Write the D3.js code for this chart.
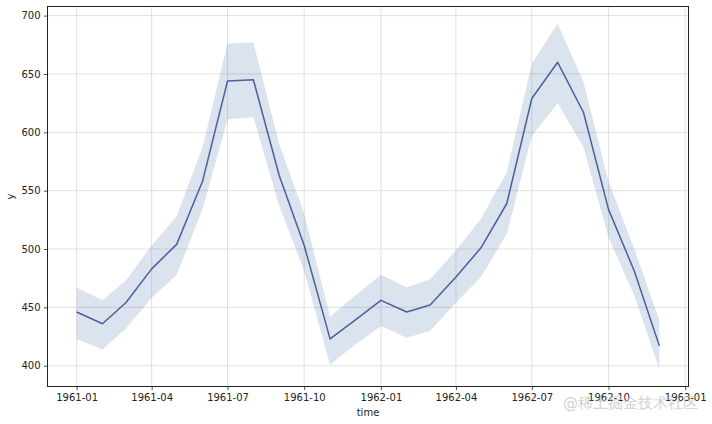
<!DOCTYPE html>
<html>
<head>
<meta charset="utf-8">
<script src="https://cdn.jsdelivr.net/npm/d3@7"></script>
<style>
  html, body { margin: 0; padding: 0; background: #fff; }
  svg { display: block; }
  text { font-family: "DejaVu Sans", sans-serif; }
</style>
</head>
<body>
<svg id="chart" width="712" height="424"></svg>
<script>
// ---- data (monthly, 1961-01 .. 1962-12) ----
const months = [
  "1961-01","1961-02","1961-03","1961-04","1961-05","1961-06",
  "1961-07","1961-08","1961-09","1961-10","1961-11","1961-12",
  "1962-01","1962-02","1962-03","1962-04","1962-05","1962-06",
  "1962-07","1962-08","1962-09","1962-10","1962-11","1962-12"
];
const meanValues = [446, 436, 454, 483, 504, 558, 644, 645, 563, 503, 423, 439,
                    456, 446, 452, 476, 501, 539, 629, 660, 617, 534, 481, 417];
const upperValues = [467, 456, 473, 503, 528, 587, 676, 677, 590, 530, 442, 460,
                     478, 467, 474, 499, 526, 566, 659, 693, 643, 558, 500, 439];
const lowerValues = [423, 414, 432, 458, 478, 534, 611, 613, 537, 481, 401, 418,
                     434, 424, 430, 454, 476, 513, 597, 625, 587, 510, 460, 397];
const xTickLabels = ["1961-01","1961-04","1961-07","1961-10","1962-01","1962-04","1962-07","1962-10","1963-01"];
const yTickValues = [400, 450, 500, 550, 600, 650, 700];

const parse = s => { const [y, m] = s.split("-").map(Number); return new Date(Date.UTC(y, m - 1, 1)); };
const rows = months.map((m, i) => ({ t: parse(m), y: meanValues[i], lo: lowerValues[i], hi: upperValues[i] }));

const svg = d3.select("#chart");
const L = 47.5, R = 688.5, T = 6.5, B = 386.5;
const DAY = 86400000;
const t0 = parse(months[0]), t1 = parse(months[months.length - 1]);
const pad = (t1 - t0) * 0.05;
const x = d3.scaleUtc().domain([new Date(+t0 - pad), new Date(+t1 + pad)]).range([L, R]);
const yLo = d3.min(lowerValues), yHi = d3.max(upperValues);
const ypad = (yHi - yLo) * 0.05;
const y = d3.scaleLinear().domain([yLo - ypad, yHi + ypad]).range([B, T]);

const xTicks = xTickLabels.map(parse);

// grid
const g = svg.append("g");
g.selectAll("line.gx").data(xTicks).join("line")
  .attr("x1", d => x(d)).attr("x2", d => x(d)).attr("y1", T).attr("y2", B)
  .attr("stroke", "#d9d9d9").attr("stroke-width", 0.8);
g.selectAll("line.gy").data(yTickValues).join("line")
  .attr("x1", L).attr("x2", R).attr("y1", d => y(d)).attr("y2", d => y(d))
  .attr("stroke", "#d9d9d9").attr("stroke-width", 0.8);

// band
const area = d3.area().x(d => x(d.t)).y0(d => y(d.lo)).y1(d => y(d.hi));
svg.append("path").datum(rows).attr("d", area)
  .attr("fill", "#4c72b0").attr("fill-opacity", 0.2).attr("stroke", "none");

// line
const line = d3.line().x(d => x(d.t)).y(d => y(d.y));
svg.append("path").datum(rows).attr("d", line)
  .attr("fill", "none").attr("stroke", "#4a5f9e").attr("stroke-width", 1.5)
  .attr("stroke-linejoin", "round");

// axes
const xAxis = d3.axisBottom(x).tickValues(xTicks).tickFormat((d, i) => xTickLabels[i]).tickSize(3.5).tickPadding(3.5);
const yAxis = d3.axisLeft(y).tickValues(yTickValues).tickFormat(d3.format("d")).tickSize(3.5).tickPadding(3.5);
const gx = svg.append("g").attr("transform", `translate(0,${B})`).call(xAxis);
const gy = svg.append("g").attr("transform", `translate(${L},0)`).call(yAxis);
[gx, gy].forEach(a => {
  a.select(".domain").remove();
  a.selectAll(".tick line").attr("stroke", "#222").attr("stroke-width", 0.8);
  a.selectAll(".tick text").attr("fill", "#222").attr("font-size", 10).attr("font-family", "DejaVu Sans, sans-serif");
});

// frame
svg.append("rect").attr("x", L).attr("y", T).attr("width", R - L).attr("height", B - T)
  .attr("fill", "none").attr("stroke", "#222").attr("stroke-width", 1);

// axis labels
svg.append("text").attr("x", (L + R) / 2).attr("y", 416).attr("text-anchor", "middle")
  .attr("font-size", 10).attr("fill", "#222").text("time");
svg.append("text").attr("transform", `translate(14,${(T + B) / 2}) rotate(-90)`).attr("text-anchor", "middle")
  .attr("font-size", 10).attr("fill", "#222").text("y");

// watermark
svg.append("text").attr("x", 698).attr("y", 408).attr("text-anchor", "end")
  .attr("font-family", "Noto Sans CJK SC, sans-serif").attr("font-size", 15)
  .attr("fill", "#c8c8c8").attr("fill-opacity", 0.85).text("@稀土掘金技术社区");
</script>
</body>
</html>
